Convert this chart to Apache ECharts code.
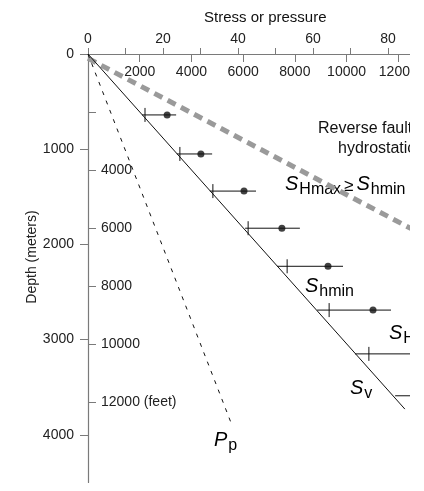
<!DOCTYPE html>
<html>
<head>
<meta charset="utf-8">
<script src="https://cdn.jsdelivr.net/npm/echarts@6/dist/echarts.min.js"></script>
<style>
  html, body { margin: 0; padding: 0; background: #fff; }
  #chart { width: 410px; height: 491px; }
</style>
</head>
<body>
<div id="chart"></div>
<script>
(function (echarts) {
  "use strict";

  // measurement rows: depth (m) and stresses (MPa)
  var rowDepth = [640, 1050, 1440, 1830, 2230, 2690, 3150, 3590];
  var rowLow   = [14.4, 23.7, 32.5, 41.9, 50.4, 61.1, 71.2, 81.9];
  var rowShmin = [15.2, 24.5, 33.3, 42.7, 53.1, 64.3, 74.9, 86.5];
  var rowSHmax = [21.1, 30.1, 41.6, 51.7, 64.0, 76.0, 88.0, 100.0];
  var rowHigh  = [23.5, 33.1, 44.8, 56.5, 68.0, 80.8, 93.0, 106.0];

  // gradient lines [stress MPa, depth m]
  var svLine      = [[0, 0], [84.5, 3730]];
  var ppLine      = [[0, 0], [38.4, 3900]];
  var reverseLine = [[0, 46], [90, 1914]];

  var mpaLabels   = [0, 20, 40, 60, 80];
  var meterTicks  = [0, 1000, 2000, 3000, 4000];
  var feetTicks   = [2000, 4000, 6000, 8000, 10000, 12000];
  var feetLabels  = [4000, 6000, 8000, 10000, 12000];

  var PSI_PER_MPA = 145.038
    , FT_PER_M = 1 / 0.3048
    , X_MAX = 93.33
    , Y_MAX = 4500
    , FONT = '"Liberation Sans", Arial, Helvetica, sans-serif'
    , AXIS_COLOR = '#7a7a7a'
    , INK = '#111';

  var chart = echarts.init(document.getElementById('chart'), null, { renderer: 'canvas' });

  function plainText(str, x, y, size) {
    return {
      type: 'text', x: x, y: y, silent: true,
      style: { text: str, fill: INK, font: size + 'px ' + FONT, verticalAlign: 'middle' }
    };
  }

  // S-style symbols with subscripts
  var symRich = {
    s: { fontSize: 20, fontStyle: 'italic', fontFamily: FONT, color: INK },
    b: { fontSize: 16, fontFamily: FONT, color: INK, padding: [12, 0, 0, 1] },
    t: { fontSize: 17, fontFamily: FONT, color: INK, padding: [4, 3, 0, 3] }
  };
  function symText(str, x, y) {
    return {
      type: 'text', x: x, y: y, silent: true,
      style: { text: str, rich: symRich, verticalAlign: 'middle' }
    };
  }

  function plain(v) { return String(Math.round(v)); }

  var rowData = rowDepth.map(function (d, i) {
    return [rowLow[i], rowHigh[i], rowShmin[i], d];
  });
  var dotData = rowDepth.map(function (d, i) {
    return [rowSHmax[i], d];
  });

  var labelStyle = { color: '#222', fontSize: 14, fontFamily: FONT };
  var hidden = { show: false };

  chart.setOption({
    animation: false,
    grid: { left: 88, top: 54, width: 350, height: 428.4, outerBoundsMode: 'none', containLabel: false },
    xAxis: [{
      // MPa, ticks every 10 (labels placed below through convertToPixel)
      type: 'value', position: 'top', min: 0, max: X_MAX, interval: 10,
      splitLine: hidden,
      axisLine: { lineStyle: { color: AXIS_COLOR, width: 1.2 } },
      axisTick: { length: 6, lineStyle: { color: AXIS_COLOR } },
      axisLabel: hidden
    }, {
      // psi
      type: 'value', position: 'top', min: 0, max: X_MAX * PSI_PER_MPA, interval: 2000,
      splitLine: hidden, axisLine: hidden,
      axisTick: { inside: true, length: 8, lineStyle: { color: AXIS_COLOR } },
      axisLabel: Object.assign({
        inside: true, margin: 11, showMaxLabel: false,
        formatter: function (v) { return v === 0 ? '' : plain(v); }
      }, labelStyle)
    }],
    yAxis: [{
      type: 'value', inverse: true, min: 0, max: Y_MAX,
      splitLine: hidden,
      axisLine: { lineStyle: { color: AXIS_COLOR, width: 1.2 } },
      axisTick: { length: 8, customValues: meterTicks, lineStyle: { color: AXIS_COLOR } },
      axisLabel: Object.assign({ margin: 14, customValues: meterTicks, formatter: plain }, labelStyle)
    }, {
      type: 'value', inverse: true, position: 'left', min: 0, max: Y_MAX * FT_PER_M,
      splitLine: hidden, axisLine: hidden,
      axisTick: { inside: true, length: 8, customValues: feetTicks, lineStyle: { color: AXIS_COLOR } },
      axisLabel: Object.assign({
        inside: true, margin: 13, customValues: feetLabels,
        formatter: function (v) { return Math.round(v) === 12000 ? '12000 (feet)' : plain(v); }
      }, labelStyle)
    }],
    series: [{
      type: 'line', data: reverseLine, symbol: 'none', silent: true,
      lineStyle: { color: '#9a9a9a', width: 5, type: [9, 6] }
    }, {
      type: 'line', data: ppLine, symbol: 'none', silent: true,
      lineStyle: { color: INK, width: 1, type: [4, 6] }
    }, {
      type: 'line', data: svLine, symbol: 'none', silent: true,
      lineStyle: { color: INK, width: 1 }
    }, {
      type: 'custom', data: rowData, silent: true,
      encode: { x: [0, 1, 2], y: 3 },
      renderItem: function (params, api) {
        var depth = api.value(3)
          , lo = api.coord([api.value(0), depth])
          , hi = api.coord([api.value(1), depth])
          , tk = api.coord([api.value(2), depth]);
        return {
          type: 'group',
          children: [{
            type: 'line',
            shape: { x1: lo[0], y1: lo[1], x2: hi[0], y2: hi[1] },
            style: { stroke: INK, lineWidth: 1 }
          }, {
            type: 'line',
            shape: { x1: tk[0], y1: tk[1] - 7, x2: tk[0], y2: tk[1] + 7 },
            style: { stroke: INK, lineWidth: 1 }
          }]
        };
      }
    }, {
      type: 'scatter', data: dotData, silent: true,
      symbol: 'circle', symbolSize: 7,
      itemStyle: { color: INK }
    }]
  });

  // MPa tick labels, positioned through the x axis scale
  var mpaTexts = mpaLabels.map(function (v) {
    var p = chart.convertToPixel({ xAxisIndex: 0, yAxisIndex: 0 }, [v, 0]);
    return {
      type: 'text', x: p[0], y: p[1] - 8, silent: true,
      style: { text: plain(v), fill: '#222', font: '14px ' + FONT, align: 'center', verticalAlign: 'bottom' }
    };
  });

  chart.setOption({
    graphic: mpaTexts.concat([
      plainText('Stress or pressure', 204, 18, 15),
      {
        type: 'text', x: 32, y: 257, rotation: Math.PI / 2, silent: true,
        style: { text: 'Depth (meters)', fill: '#222', font: '14px ' + FONT, align: 'center', verticalAlign: 'middle' }
      },
      plainText('Reverse fault', 318, 129, 16),
      plainText('hydrostatic', 338, 149, 16),
      symText('{s|S}{b|Hmax}{t|≥}{s|S}{b|hmin}', 285, 184),
      symText('{s|S}{b|hmin}', 305, 286),
      symText('{s|S}{b|Hmax}', 389, 333),
      symText('{s|S}{b|v}', 350, 388),
      symText('{s|P}{b|p}', 214, 440)
    ])
  });
})(echarts);
</script>
</body>
</html>
